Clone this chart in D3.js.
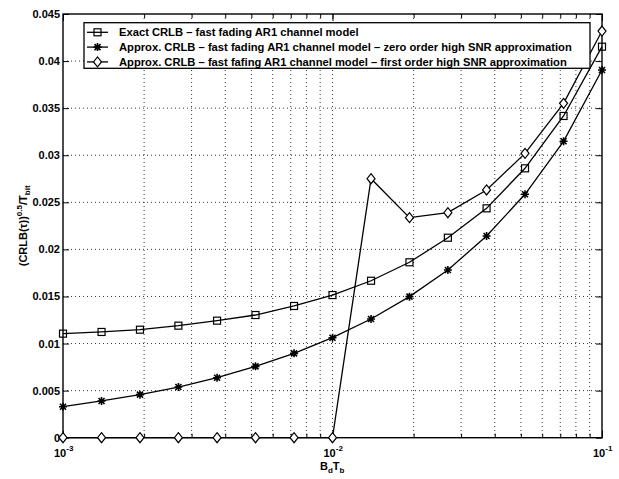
<!DOCTYPE html>
<html>
<head>
<meta charset="utf-8">
<script src="https://cdn.jsdelivr.net/npm/d3@7"></script>
<style>
  html, body { margin: 0; padding: 0; background: #fff; }
  svg { display: block; font-family: "Liberation Sans", Arial, Helvetica, sans-serif; }
</style>
</head>
<body>
<svg id="chart" width="619" height="479"></svg>
<script>
// Normalised Doppler bandwidth B_d*T_b (log-spaced sweep)
const bdTb = [0.001, 0.00139, 0.00193, 0.00268, 0.00373, 0.00518, 0.00720, 0.01,
              0.0139, 0.0193, 0.0268, 0.0373, 0.0518, 0.0720, 0.1];

// sqrt(CRLB(tau))/T_bit for each bound
const exactCRLB = [0.01105, 0.01123, 0.01147, 0.01190, 0.01243, 0.01303, 0.01399, 0.01515,
                   0.01667, 0.01863, 0.02124, 0.02436, 0.02861, 0.03417, 0.04153];
const zeroOrder = [0.00329, 0.00390, 0.00457, 0.00538, 0.00637, 0.00758, 0.00896, 0.01062,
                   0.01261, 0.01498, 0.01781, 0.02142, 0.02585, 0.03148, 0.03905];
const firstOrder = [0, 0, 0, 0, 0, 0, 0, 0,
                    0.02751, 0.02337, 0.02390, 0.02631, 0.03020, 0.03551, 0.04319];

const seriesNames = [
  "Exact CRLB \u2013 fast fading AR1 channel model",
  "Approx. CRLB \u2013 fast fading AR1 channel model \u2013 zero order high SNR approximation",
  "Approx. CRLB \u2013 fast fafing AR1 channel model \u2013 first order high SNR approximation"
];
const seriesMarkers = ["square", "star", "diamond"];

const yTicks = [0, 0.005, 0.01, 0.015, 0.02, 0.025, 0.03, 0.035, 0.04, 0.045];
const yTickLabels = ["0", "0.005", "0.01", "0.015", "0.02", "0.025", "0.03", "0.035", "0.04", "0.045"];
const xMajor = [0.001, 0.01, 0.1];
const xMajorExp = ["-3", "-2", "-1"];

const series = [exactCRLB, zeroOrder, firstOrder].map((vals, k) => ({
  name: seriesNames[k], marker: seriesMarkers[k],
  points: vals.map((v, i) => ({ x: bdTb[i], y: v }))
}));

// minor decade positions 1..9 x 10^k
const xMinor = [];
[-3, -2].forEach(e => { for (let m = 1; m <= 9; m++) xMinor.push(+(m * Math.pow(10, e)).toPrecision(3)); });
xMinor.push(0.1);

const L = 63, R = 602, T = 14, B = 437.7;
const svg = d3.select("#chart");
const x = d3.scaleLog().domain([1e-3, 1e-1]).range([L, R]);
const y = d3.scaleLinear().domain([0, 0.045]).range([B, T]);

// dotted grid
const grid = svg.append("g").attr("stroke", "#000").attr("stroke-width", 0.8)
  .attr("stroke-dasharray", "1,3");
grid.selectAll("line.gx").data(xMinor.slice(1, -1)).join("line")
  .attr("x1", d => x(d)).attr("x2", d => x(d)).attr("y1", T).attr("y2", B);
grid.selectAll("line.gy").data(yTicks.slice(1, -1)).join("line")
  .attr("x1", L).attr("x2", R).attr("y1", d => y(d)).attr("y2", d => y(d));

// axes (inward ticks on all four sides)
const axStyle = g => { g.select(".domain").remove(); g.selectAll("text").remove();
  g.selectAll("line").attr("stroke", "#000").attr("stroke-width", 1); };
svg.append("g").attr("transform", `translate(0,${B})`)
  .call(d3.axisBottom(x).tickValues(xMinor).tickSize(-4)).call(axStyle);
svg.append("g").attr("transform", `translate(0,${T})`)
  .call(d3.axisTop(x).tickValues(xMinor).tickSize(-4)).call(axStyle);
svg.append("g").attr("transform", `translate(0,${B})`)
  .call(d3.axisBottom(x).tickValues(xMajor).tickSize(-7)).call(axStyle);
svg.append("g").attr("transform", `translate(0,${T})`)
  .call(d3.axisTop(x).tickValues(xMajor).tickSize(-7)).call(axStyle);
svg.append("g").attr("transform", `translate(${L},0)`)
  .call(d3.axisLeft(y).tickValues(yTicks).tickSize(-6)).call(axStyle);
svg.append("g").attr("transform", `translate(${R},0)`)
  .call(d3.axisRight(y).tickValues(yTicks).tickSize(-6)).call(axStyle);

// plot frame
svg.append("rect").attr("x", L).attr("y", T).attr("width", R - L).attr("height", B - T)
  .attr("fill", "none").attr("stroke", "#000").attr("stroke-width", 1.4);

// tick labels
svg.append("g").selectAll("text").data(yTicks).join("text")
  .attr("x", L - 3).attr("y", d => y(d) + 4).attr("text-anchor", "end")
  .attr("font-size", 11).attr("font-weight", "bold").text((d, i) => yTickLabels[i]);
const xl = svg.append("g").selectAll("text").data(xMajor).join("text")
  .attr("x", d => x(d) - 9).attr("y", 457).attr("font-size", 11).attr("font-weight", "bold");
xl.append("tspan").text("10");
xl.append("tspan").attr("dy", -6).attr("font-size", 8).text((d, i) => xMajorExp[i]);

// axis titles
const xt = svg.append("text").attr("x", 320).attr("y", 470).attr("font-size", 11).attr("font-weight", "bold");
xt.append("tspan").text("B");
xt.append("tspan").attr("dy", 3).attr("font-size", 8).text("d");
xt.append("tspan").attr("dy", -3).text("T");
xt.append("tspan").attr("dy", 3).attr("font-size", 8).text("b");

const yt = svg.append("text").attr("transform", `translate(27,${(T + B) / 2}) rotate(-90)`)
  .attr("text-anchor", "middle").attr("font-size", 11).attr("font-weight", "bold");
yt.append("tspan").text("(CRLB(τ))");
yt.append("tspan").attr("dy", -5).attr("font-size", 8).text("0.5");
yt.append("tspan").attr("dy", 5).text("/T");
yt.append("tspan").attr("dy", 3).attr("font-size", 8).text("bit");

// marker shapes
function drawMarker(g, type, cx, cy) {
  if (type === "square") {
    g.append("rect").attr("x", cx - 3.5).attr("y", cy - 3.5).attr("width", 7).attr("height", 7)
      .attr("fill", "none").attr("stroke", "#000").attr("stroke-width", 1.2);
  } else if (type === "diamond") {
    g.append("path").attr("d", `M${cx},${cy - 5}L${cx + 4},${cy}L${cx},${cy + 5}L${cx - 4},${cy}Z`)
      .attr("fill", "#fff").attr("stroke", "#000").attr("stroke-width", 1.2);
  } else {
    const s = 4;
    g.append("path").attr("d",
      `M${cx - s},${cy}L${cx + s},${cy}M${cx},${cy - s}L${cx},${cy + s}` +
      `M${cx - s * 0.75},${cy - s * 0.75}L${cx + s * 0.75},${cy + s * 0.75}` +
      `M${cx - s * 0.75},${cy + s * 0.75}L${cx + s * 0.75},${cy - s * 0.75}`)
      .attr("stroke", "#000").attr("stroke-width", 1.6).attr("fill", "none");
  }
}

// curves
const line = d3.line().x(d => x(d.x)).y(d => y(d.y));
series.forEach(s => {
  const g = svg.append("g");
  g.append("path").datum(s.points).attr("d", line)
    .attr("fill", "none").attr("stroke", "#000").attr("stroke-width", 1.3);
  s.points.forEach(p => drawMarker(g, s.marker, x(p.x), y(p.y)));
});

// legend
const lg = svg.append("g");
lg.append("rect").attr("x", 84).attr("y", 22.7).attr("width", 506).attr("height", 45.6)
  .attr("fill", "#fff").attr("stroke", "#000").attr("stroke-width", 1.3);
series.forEach((s, i) => {
  const ly = 32.3 + i * 14.8;
  lg.append("line").attr("x1", 87).attr("x2", 108).attr("y1", ly).attr("y2", ly)
    .attr("stroke", "#000").attr("stroke-width", 1.3);
  drawMarker(lg, s.marker, 97.5, ly);
  lg.append("text").attr("x", 119).attr("y", ly + 4).attr("font-size", 11.2)
    .attr("font-weight", "bold").text(s.name);
});
</script>
</body>
</html>
